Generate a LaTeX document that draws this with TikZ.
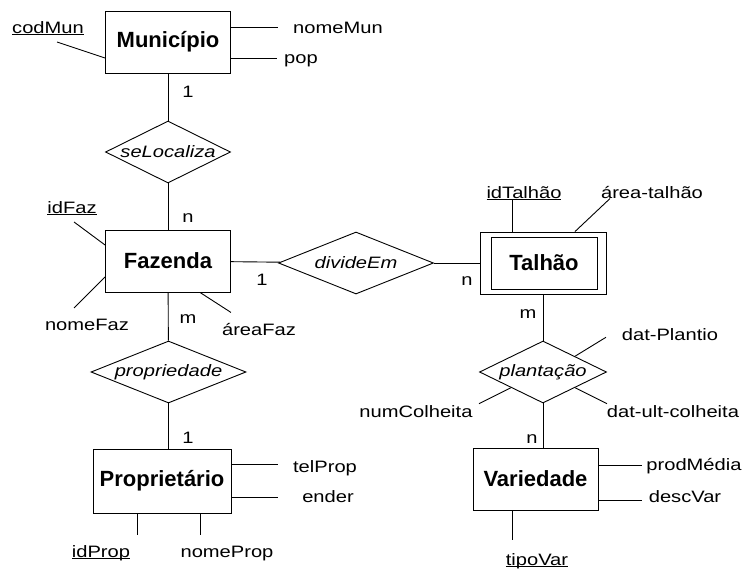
\documentclass[tikz,border=0pt]{standalone}
\usepackage{fontspec}
\setmainfont{Liberation Sans}[FakeStretch=1.22]
\newfontfamily\entfont{Liberation Sans}
\usetikzlibrary{shapes.geometric}
\newcommand{\chave}[1]{\underline{\smash{#1}}}

\begin{document}
\begin{tikzpicture}[x=1pt,y=-1pt,line width=0.9pt,
  ent/.style={draw,rectangle,minimum width=125pt,minimum height=62pt,inner sep=0pt,
    font=\entfont\fontsize{22}{26}\selectfont\bfseries},
  rel/.style={draw,diamond,inner sep=0pt,minimum height=62pt,
    font=\fontsize{16.5}{20}\selectfont\itshape},
  attr/.style={anchor=base,inner sep=0pt,font=\fontsize{16.5}{20}\selectfont},
  card/.style={attr}]
\useasboundingbox (0,0) rectangle (747,570);

% entidades
\node[ent] (mun) at (168,42) {Município};
\node[ent] (faz) at (168,261) {Fazenda};
\node[ent,minimum width=126pt] (tal) at (543,263) {};
\node[ent,minimum width=106pt,minimum height=52pt] (talin) at (544,263) {Talhão};
\node[ent,minimum width=138pt,minimum height=64pt] (prop) at (162,481) {Proprietário};
\node[ent] (var) at (535.5,479) {Variedade};

% relacionamentos
\node[rel,minimum width=125pt] (seloc) at (168,152) {\makebox[0pt]{seLocaliza}};
\node[rel,minimum width=155pt] (divide) at (356,263) {\makebox[0pt]{divideEm}};
\node[rel,minimum width=155pt] (propr) at (168.5,372) {\makebox[0pt]{propriedade}};
\node[rel,minimum width=127pt] (plant) at (543,372) {\makebox[0pt]{plantação}};

\draw (mun) -- (seloc);
\draw (seloc) -- (faz);
\draw (faz) -- (divide);
\draw (divide) -- (tal);
\draw (faz) -- (propr);
\draw (propr) -- (propr.south |- prop.north);
\draw (tal) -- (plant);
\draw (plant.south) -- (plant.south |- var.north);

% cardinalidades
\node[card] (c1) at (188,97) {1};
\node[card] (c2) at (188,222) {n};
\node[card] (c3) at (262,285) {1};
\node[card] (c4) at (467,285) {n};
\node[card] (c5) at (188,323) {m};
\node[card] (c6) at (188,443) {1};
\node[card] (c7) at (528,318) {m};
\node[card] (c8) at (532,443) {n};

% atributos
\node[attr] (codmun) at (48,33) {\chave{codMun}};
\node[attr] (nomemun) at (338,34) {nomeMun};
\node[attr] (pop) at (301,63) {pop};
\draw ([yshift=-16pt]mun.west) -- ++(-48,-16);
\draw ([yshift=15pt]mun.east) -- ++(47,0);
\draw ([yshift=-16pt]mun.east) -- ++(46,0);

\node[attr] (idfaz) at (72,213) {\chave{idFaz}};
\node[attr] (nomefaz) at (87,330) {nomeFaz};
\node[attr] (areafaz) at (259,335) {áreaFaz};
\draw ([yshift=16pt]faz.west) -- ++(-31,-23);
\draw ([yshift=-16pt]faz.west) -- ++(-31,31);
\draw ([xshift=32pt]faz.south) -- ++(31,20);

\node[attr] (idtal) at (524,198) {\chave{idTalhão}};
\node[attr] (areatal) at (652,198) {área-talhão};
\draw ([xshift=-31pt]tal.north) -- ++(0,-32);
\draw ([xshift=32pt]tal.north) -- ++(35,-33);

\node[attr] (datpl) at (670,340) {dat-Plantio};
\node[attr] (numcol) at (416,417) {numColheita};
\node[attr] (datult) at (673,417) {dat-ult-colheita};
\draw (plant.north east) -- ++(31,-19);
\draw (plant.south west) -- ++(-32,16);
\draw (plant.south east) -- ++(32,16);

\node[attr] (prodmed) at (694,470) {prodMédia};
\node[attr] (descvar) at (685,502) {descVar};
\node[attr] (tipovar) at (537,565) {\chave{tipoVar}};
\draw ([yshift=14pt]var.east) -- ++(44,0);
\draw ([yshift=-21pt]var.east) -- ++(44,0);
\draw ([xshift=-23.5pt]var.south) -- ++(0,30);

\node[attr] (telprop) at (325,472) {telProp};
\node[attr] (ender) at (328,502) {ender};
\node[attr] (idprop) at (101,557) {\chave{idProp}};
\node[attr] (nomeprop) at (227,557) {nomeProp};
\draw ([yshift=17pt]prop.east) -- ++(47,0);
\draw ([yshift=-16pt]prop.east) -- ++(47,0);
\draw ([xshift=-25pt]prop.south) -- ++(0,22);
\draw ([xshift=38pt]prop.south) -- ++(0,22);
\end{tikzpicture}
\end{document}
